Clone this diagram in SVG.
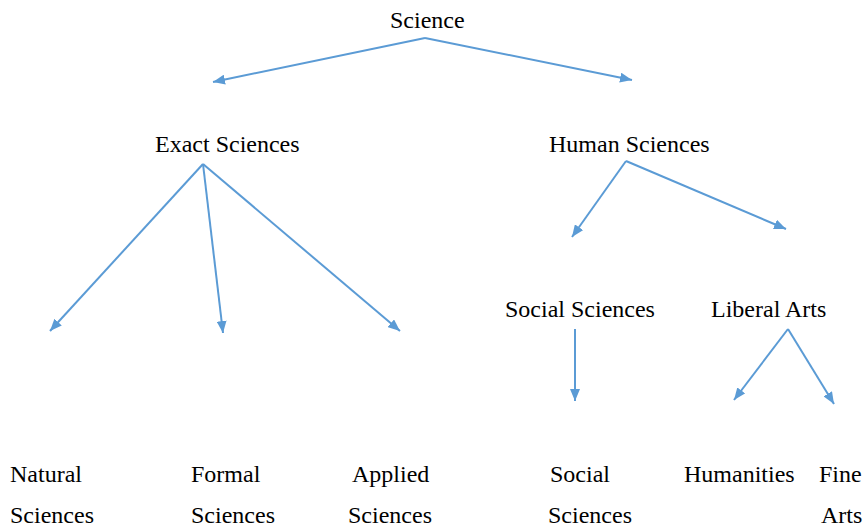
<svg xmlns="http://www.w3.org/2000/svg" width="865" height="527" viewBox="0 0 865 527">
<style>
.t{font-family:'Liberation Serif','Times New Roman',Times,serif;font-size:24px;fill:#000}
.c line{stroke:#5B9BD5;stroke-width:2;fill:none;marker-end:url(#ah)}
</style>
<defs>
<marker id="ah" viewBox="0 0 12 10" refX="12" refY="5" markerWidth="12" markerHeight="10" markerUnits="userSpaceOnUse" orient="auto">
<path d="M0,0 L12,5 L0,10 Z" fill="#5B9BD5"/>
</marker>
</defs>
<rect width="865" height="527" fill="#fff"/>
<g class="c" id="connectors">
<line x1="425" y1="38" x2="213" y2="82"/>
<line x1="425" y1="38" x2="632" y2="80"/>
<line x1="203" y1="164" x2="50" y2="331"/>
<line x1="203" y1="164" x2="223" y2="333"/>
<line x1="203" y1="164" x2="400" y2="331"/>
<line x1="626" y1="161" x2="572" y2="237"/>
<line x1="626" y1="161" x2="786" y2="229"/>
<line x1="575" y1="329" x2="575" y2="401"/>
<line x1="788" y1="329" x2="734" y2="400"/>
<line x1="788" y1="329" x2="834" y2="404"/>
</g>
<g class="t" font-family="Liberation Serif, serif">
<g id="science"><text x="390" y="28">Science</text></g>
<g id="exact"><text x="155" y="152">Exact Sciences</text></g>
<g id="human"><text x="549" y="152">Human Sciences</text></g>
<g id="social"><text x="505" y="317">Social Sciences</text></g>
<g id="liberal"><text x="711" y="317">Liberal Arts</text></g>
<g id="natural"><text x="10" y="482">Natural</text><text x="10" y="523">Sciences</text></g>
<g id="formal"><text x="191" y="482">Formal</text><text x="191" y="523">Sciences</text></g>
<g id="applied"><text x="352" y="482">Applied</text><text x="348" y="523">Sciences</text></g>
<g id="socialleaf"><text x="550" y="482">Social</text><text x="548" y="523">Sciences</text></g>
<g id="humanities"><text x="684" y="482">Humanities</text></g>
<g id="fine"><text x="819" y="482">Fine</text><text x="821" y="523">Arts</text></g>
</g>
</svg>
